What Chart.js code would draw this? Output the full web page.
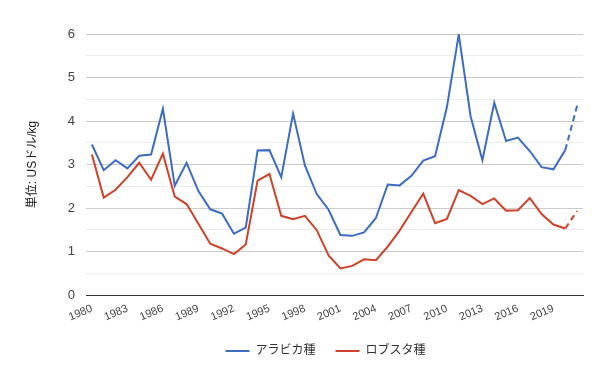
<!DOCTYPE html>
<html>
<head>
<meta charset="utf-8">
<script src="https://cdn.jsdelivr.net/npm/chart.js@4"></script>
<style>
  html, body { margin: 0; padding: 0; background: #fff; }
  #wrap { width: 600px; height: 367px; }
</style>
</head>
<body>
<div id="wrap"><canvas id="coffeeChart" width="600" height="367"></canvas></div>
<script>
// 年 (1980-2021)
const years = [];
for (let y = 1980; y <= 2021; y++) years.push(String(y));

// アラビカ種 (USドル/kg)
const arabica = [3.46, 2.87, 3.10, 2.91, 3.20, 3.23, 4.28, 2.51, 3.04, 2.39,
  1.97, 1.87, 1.41, 1.55, 3.32, 3.33, 2.71, 4.17, 2.98, 2.32,
  1.96, 1.38, 1.36, 1.44, 1.77, 2.54, 2.52, 2.74, 3.09, 3.19,
  4.32, 5.99, 4.11, 3.10, 4.42, 3.54, 3.62, 3.31, 2.94, 2.89,
  3.33, 4.35];

// ロブスタ種 (USドル/kg)
const robusta = [3.23, 2.24, 2.42, 2.71, 3.04, 2.65, 3.25, 2.26, 2.09, 1.64,
  1.18, 1.07, 0.94, 1.16, 2.63, 2.78, 1.82, 1.74, 1.82, 1.49,
  0.91, 0.61, 0.67, 0.82, 0.80, 1.11, 1.48, 1.91, 2.33, 1.65,
  1.75, 2.41, 2.28, 2.09, 2.22, 1.94, 1.95, 2.23, 1.86, 1.62,
  1.53, 1.93];

const seriesNames = ['アラビカ種', 'ロブスタ種'];
const yTitle = '単位: USドル/kg';

const font = '"Liberation Sans", "Noto Sans CJK JP", sans-serif';

// 最後の区間 (予測値) は破線
const dashLast = ctx => ctx.p1DataIndex === years.length - 1 ? [6, 4] : undefined;

// 凡例を少し左へ寄せる
const legendShift = {
  id: 'legendShift',
  afterLayout(chart) {
    chart.legend.left -= 9;
    chart.legend.right -= 9;
  }
};

const config = {
  type: 'line',
  data: {
    labels: years,
    datasets: [{
      label: seriesNames[0],
      data: arabica,
      borderColor: '#3d6cc4',
      backgroundColor: '#3d6cc4',
      borderWidth: 2,
      pointRadius: 0,
      tension: 0,
      segment: { borderDash: dashLast }
    }, {
      label: seriesNames[1],
      data: robusta,
      borderColor: '#cf4128',
      backgroundColor: '#cf4128',
      borderWidth: 2,
      pointRadius: 0,
      tension: 0,
      segment: { borderDash: dashLast }
    }]
  },
  plugins: [legendShift],
  options: {
    responsive: false,
    animation: false,
    layout: { padding: { left: 25, right: 17, top: 34, bottom: 0 } },
    plugins: {
      tooltip: { enabled: false },
      legend: {
        position: 'bottom',
        fullSize: false,
        labels: {
          usePointStyle: true,
          pointStyle: 'line',
          pointStyleWidth: 24,
          padding: 20,
          color: '#333',
          font: { family: font, size: 12 },
          generateLabels: chart => chart.data.datasets.map((ds, i) => ({
            text: ds.label,
            strokeStyle: ds.borderColor,
            fillStyle: ds.borderColor,
            lineWidth: 2,
            pointStyle: 'line',
            datasetIndex: i,
            fontColor: '#333'
          }))
        }
      }
    },
    scales: {
      x: {
        offset: true,
        grid: { display: false, drawTicks: false },
        border: { color: '#333', width: 1 },
        ticks: {
          autoSkip: false,
          maxRotation: 23,
          minRotation: 23,
          color: '#444',
          padding: 7,
          font: { family: font, size: 11 },
          callback: function (val, idx) { return idx % 3 === 0 ? this.getLabelForValue(val) : ''; }
        },
        afterFit: s => { s.height = 30; }
      },
      y: {
        min: 0,
        max: 6,
        border: { display: false },
        grid: {
          drawTicks: false,
          color: c => c.tick.value === 0 ? 'rgba(0,0,0,0)' : (Number.isInteger(c.tick.value) ? '#cccccc' : '#ececec')
        },
        ticks: {
          stepSize: 0.5,
          padding: 11,
          color: '#444',
          font: { family: font, size: 13 },
          callback: v => Number.isInteger(v) ? v : ''
        },
        title: {
          display: true,
          text: yTitle,
          color: '#222',
          padding: { top: 0, bottom: 14 },
          font: { family: font, size: 12 }
        },
        afterFit: s => { s.width = 61; }
      }
    }
  }
};

new Chart(document.getElementById('coffeeChart').getContext('2d'), config);
</script>
</body>
</html>
